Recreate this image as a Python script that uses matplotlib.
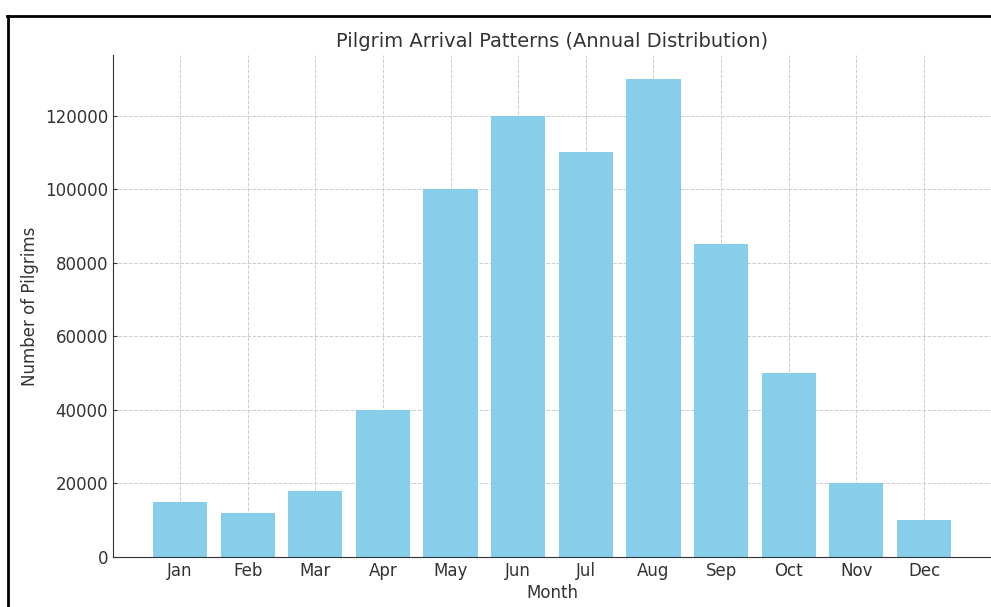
import matplotlib.pyplot as plt
from matplotlib.lines import Line2D

months = ["Jan", "Feb", "Mar", "Apr", "May", "Jun", "Jul", "Aug", "Sep", "Oct", "Nov", "Dec"]
pilgrims = [15000, 12000, 18000, 40000, 100000, 120000, 110000, 130000, 85000, 50000, 20000, 10000]

txt = "#333333"
plt.rcParams["font.family"] = "DejaVu Sans"

fig = plt.figure(figsize=(9.91, 6.07), dpi=100)
ax = fig.add_axes([113 / 991, 50 / 607, 1 - 113 / 991, 502 / 607])

ax.bar(months, pilgrims, color="skyblue", width=0.8)
ax.grid(True, linestyle="--", color="#cccccc", linewidth=0.7)
ax.set_axisbelow(True)

ax.set_title("Pilgrim Arrival Patterns (Annual Distribution)", fontsize=14, color=txt)
ax.set_xlabel("Month", fontsize=12, color=txt, labelpad=3)
ax.set_ylabel("Number of Pilgrims", fontsize=12, color=txt)
ax.tick_params(labelsize=12, colors=txt, direction="in", length=3)

for s in ["top", "right"]:
    ax.spines[s].set_visible(False)
for s in ["left", "bottom"]:
    ax.spines[s].set_color(txt)

# screenshot frame
fig.add_artist(Line2D([7 / 991, 1], [1 - 16 / 607, 1 - 16 / 607], color="black", linewidth=2, transform=fig.transFigure))
fig.add_artist(Line2D([7.5 / 991, 7.5 / 991], [0, 1 - 16 / 607], color="black", linewidth=2, transform=fig.transFigure))

fig.savefig("out.png", dpi=100)
